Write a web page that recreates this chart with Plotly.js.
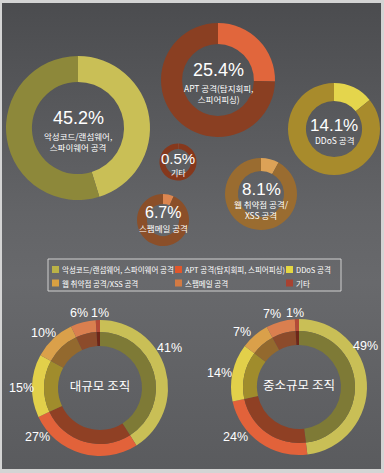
<!DOCTYPE html>
<html>
<head>
<meta charset="utf-8">
<script src="https://cdn.plot.ly/plotly-3.0.1.min.js"></script>
<style>
html,body{margin:0;padding:0;background:#d4d4d4;}
#wrap{position:relative;width:384px;height:473px;overflow:hidden;background:#d4d4d4;}
#bg{position:absolute;left:2px;top:3px;width:379px;height:466px;
 background:linear-gradient(to bottom,#4b4c4f 0%,#56575a 20%,#636467 45%,#68696c 60%,#616265 80%,#5a5b5e 100%);}
#chart{position:absolute;left:0;top:0;width:384px;height:473px;}
</style>
</head>
<body>
<div id="wrap"><div id="bg"></div><div id="chart"></div></div>
<script>
// ---- data ----
const categories = ['악성코드/랜섬웨어, 스파이웨어 공격','APT 공격(탐지회피, 스피어피싱)','DDoS 공격','웹 취약점 공격/XSS 공격','스팸메일 공격','기타'];
const centerLabels = ['악성코드/랜섬웨어,<br>스파이웨어 공격','APT 공격(탐지회피,<br>스피어피싱)','DDoS 공격','웹 취약점 공격/<br>XSS 공격','스팸메일 공격','기타'];
const overallShare = [45.2, 25.4, 14.1, 8.1, 6.7, 0.5];
const largeOrgShare = [41, 27, 15, 10, 6, 1];
const smallOrgShare = [49, 24, 14, 7, 7, 1];
const orgTitles = ['대규모 조직', '중소규모 조직'];

// ---- styles / positions ----
const W = 384, H = 473;
const FONT = 'Liberation Sans, Arial, Noto Sans CJK KR, sans-serif';
const KFONT = 'Noto Sans CJK KR, Liberation Sans, sans-serif';
const topRings = [
  {cx:78,  cy:128, r:72,  hole:0.64, hi:'#c9bf56', lo:'#8d883a', numDy:-10, labDy:13, ns:18, ls:8.5},
  {cx:218, cy:80,  r:57,  hole:0.63, hi:'#e1663c', lo:'#8a3f22', numDy:-10, labDy:13, ns:18, ls:8.5},
  {cx:334, cy:129, r:46,  hole:0.61, hi:'#e4d54c', lo:'#a88b2c', numDy:-4,  labDy:11, ns:17, ls:8.5},
  {cx:261, cy:194, r:36,  hole:0.64, hi:'#dca257', lo:'#9a6c30', numDy:-5,  labDy:15, ns:17, ls:8.5},
  {cx:163, cy:220, r:26,  hole:0.62, hi:'#dc8650', lo:'#8b4f29', numDy:-7,  labDy:8,  ns:16, ls:8.5},
  {cx:178, cy:162, r:18.5,hole:0.70, hi:'#b0512e', lo:'#86381c', numDy:-4,  labDy:10, ns:15, ls:8}
];
const outerColors = ['#c9bf56','#e2623a','#e2d04a','#daa04a','#da7f4f','#b44a36'];
const innerColors = ['#7e7a36','#8f4024','#a08c2c','#93692e','#8c4b2b','#6e2618'];
const legendColors = ['#bab247','#e0572c','#e4d742','#d9a042','#d27a44','#a84231'];
const orgRings = [
  {cx:100, cy:388, r:68, labelAngles:[60, 232, 270, 314, 344, 0],   labelR:[80, 79, 79, 79, 78, 75]},
  {cx:299, cy:387, r:68, labelAngles:[58, 232, 280, 314, 340, 357], labelR:[78, 81, 81, 79, 78, 74]}
];
const ringSplit = 56, holeR = 42;
const legendBox = {x0:48, y0:259, x1:341, y1:291};
const legendCols = [52, 175, 286], legendRows = [269.5, 283], swatch = 7;

function dom(cx, cy, r){
  return {x:[(cx-r)/W,(cx+r)/W], y:[1-(cy+r)/H, 1-(cy-r)/H]};
}

const traces = [];
const annotations = [];
const shapes = [];
topRings.forEach((g, i) => {
  const v = overallShare[i];
  traces.push({
    type:'pie', values:[v, 100 - v], labels:[categories[i], '그 외'],
    marker:{colors:[g.hi, g.lo], line:{width:0}},
    hole:g.hole, sort:false, direction:'clockwise', rotation:0,
    textinfo:'none', hoverinfo:'skip', showlegend:false,
    domain:dom(g.cx, g.cy, g.r)
  });
  annotations.push({
    xref:'paper', yref:'paper', x:g.cx/W, y:1-g.cy/H, yshift:-g.numDy,
    text: v + '%', showarrow:false, xanchor:'center', yanchor:'middle',
    font:{family:FONT, size:g.ns, color:'#ffffff'}
  });
  annotations.push({
    xref:'paper', yref:'paper', x:g.cx/W, y:1-g.cy/H, yshift:-g.labDy,
    text: centerLabels[i], showarrow:false, xanchor:'center', yanchor:'middle',
    font:{family:KFONT, size:g.ls, color:'#ffffff'}
  });
});

[largeOrgShare, smallOrgShare].forEach((vals, k) => {
  const o = orgRings[k];
  traces.push({
    type:'pie', values:vals, labels:categories,
    marker:{colors:outerColors, line:{width:0}},
    hole:ringSplit/o.r, sort:false, direction:'clockwise', rotation:0,
    textinfo:'none', hoverinfo:'skip', showlegend:false,
    domain:dom(o.cx, o.cy, o.r)
  });
  traces.push({
    type:'pie', values:vals, labels:categories,
    marker:{colors:innerColors, line:{width:0}},
    hole:holeR/ringSplit, sort:false, direction:'clockwise', rotation:0,
    textinfo:'none', hoverinfo:'skip', showlegend:false,
    title:{text:orgTitles[k], position:'middle center', font:{family:KFONT, size:12.5, color:'#ffffff'}},
    domain:dom(o.cx, o.cy, ringSplit)
  });
  vals.forEach((v, j) => {
    const a = o.labelAngles[j] * Math.PI / 180, rr = o.labelR[j];
    annotations.push({
      xref:'paper', yref:'paper',
      x:(o.cx + rr * Math.sin(a)) / W, y:1 - (o.cy - rr * Math.cos(a)) / H,
      text: v + '%', showarrow:false, xanchor:'center', yanchor:'middle',
      font:{family:FONT, size:12.5, color:'#ffffff'}
    });
  });
});

// legend (drawn as text + key squares)
shapes.push({type:'rect', xref:'paper', yref:'paper',
  x0:legendBox.x0/W, x1:legendBox.x1/W, y0:1-legendBox.y1/H, y1:1-legendBox.y0/H,
  line:{color:'#d0d0d0', width:1}, fillcolor:'rgba(0,0,0,0)'});
categories.forEach((c, i) => {
  const col = legendCols[i % 3], row = legendRows[Math.floor(i / 3)];
  shapes.push({type:'rect', xref:'paper', yref:'paper',
    x0:col/W, x1:(col+swatch)/W, y0:1-(row+swatch/2)/H, y1:1-(row-swatch/2)/H,
    line:{width:0}, fillcolor:legendColors[i]});
  annotations.push({
    xref:'paper', yref:'paper', x:(col+swatch+1)/W, y:1-row/H,
    text:c, showarrow:false, xanchor:'left', yanchor:'middle',
    font:{family:KFONT, size:7.5, color:'#ffffff'}
  });
});

const layout = {
  width:W, height:H,
  margin:{l:0, r:0, t:0, b:0},
  paper_bgcolor:'rgba(0,0,0,0)', plot_bgcolor:'rgba(0,0,0,0)',
  showlegend:false,
  annotations:annotations,
  shapes:shapes
};

Plotly.newPlot('chart', traces, layout, {displayModeBar:false, staticPlot:true});
</script>
</body>
</html>
